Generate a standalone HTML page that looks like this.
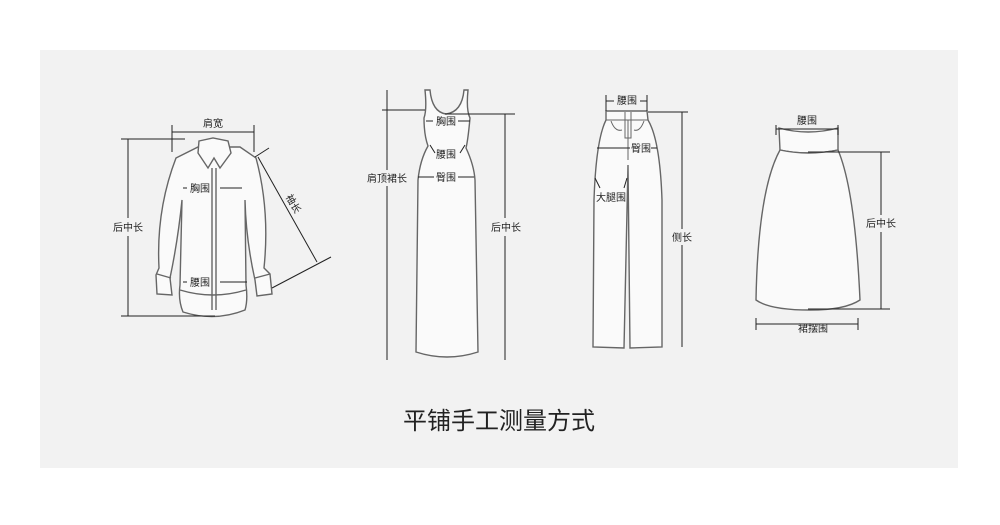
<!DOCTYPE html>
<html><head><meta charset="utf-8"><style>
html,body{margin:0;padding:0;background:#fff;}
svg{display:block;}
text{font-family:"Liberation Sans","Noto Sans CJK SC",sans-serif;fill:#222;}
</style></head><body>
<svg width="1000" height="525" viewBox="0 0 1000 525" xmlns="http://www.w3.org/2000/svg">
<rect x="40" y="50" width="918" height="418" fill="#f2f2f2"/>
<g fill="#fafafa" stroke="#666" stroke-width="1.4">
<!-- shirt -->
<path d="M176,158 L198,147 L240,147 L256,158 Q270,210 264,268 L270,274 L272,294 L257,296 L255,280 Q246,240 245,200 L246,285 Q248,300 245,310 Q215,322 183,312 Q178,300 180,285 L182,200 Q178,240 170,278 L172,295 L157,294 L156,275 L159,268 Q156,210 176,158 Z"/>
<path d="M180,290 Q213,300 246,290" fill="none"/>
<path d="M199,141 L213,138 L228,141 L231,153 L220,168 L214,158 L208,168 L198,153 Z"/>
<path d="M157,274 L171,278 M255,278 L270,274 M212,168 V310 M216,168 V310" fill="none"/>
<!-- dress -->
<path d="M425,90 L430,90 Q432,112 446,114 Q462,112 464,90 L468,90 Q466,110 470,118 Q468,140 466,148 Q474,165 475,180 L478,352 Q447,362 416,352 L418,180 Q420,160 428,146 Q424,135 424,118 Q427,110 425,90 Z"/>
<!-- pants -->
<path d="M606,111 L647,111 L648,120 Q660,140 662,200 L662,347 L630,348 L628,165 L624,348 L593,347 L594,200 Q596,140 606,120 Z"/>
<path d="M606,120 L648,120 M628,120 L628,160 M625,112 L625,138 L631,138 L631,112 M611,121 Q615,132 622,130 M644,121 Q640,132 634,130" fill="none" stroke-width="1"/>
<!-- skirt -->
<path d="M779,128 Q808,136 838,128 L838,150 Q808,156 780,150 Z"/>
<path d="M780,150 Q808,156 838,150 Q855,190 860,300 Q845,310 810,310 Q770,310 756,300 Q758,190 780,150 Z"/>
</g>
<g stroke="#222" stroke-width="1" fill="none">
<path d="M172,125 V152 M254,125 V152 M172,132 H254"/>
<path d="M121,139 H185 M121,316 H215 M128,139 V218 M128,236 V316"/>
<path d="M255,157 L269,148 M258,157 L317,262 M272,288 L331,257"/>
<path d="M183,188 H187 M220,188 H242 M183,282 H187 M220,282 H247"/>
<path d="M387,90 V170 M387,186 V360 M382,110 H425 M445,114 H515 M505,114 V218 M505,236 V360"/>
<path d="M426,121 H433 M458,121 H470 M430,145 L435,153 M465,145 L460,153 M418,177 H434 M458,177 H474"/>
<path d="M606,95 V111 M647,95 V111 M606,101 H614 M640,101 H647 M648,112 H688 M682,112 V229 M682,245 V347"/>
<path d="M597,148 H630 M651,148 H657 M595,178 L600,188 M627,178 L624,188"/>
<path d="M776,125 V135 M838,125 V135 M776,129 H838 M808,152 H890 M881,152 V215 M881,232 V309 M808,309 H890"/>
<path d="M756,318 V330 M858,318 V330 M756,324 H858"/>
</g>
<g font-size="10" text-anchor="middle">
<text x="213" y="127">肩宽</text>
<text x="128" y="231">后中长</text>
<text x="200" y="192">胸围</text>
<text x="200" y="286">腰围</text>
<text x="293" y="207" transform="rotate(60 293 204)">袖长</text>
<text x="446" y="125">胸围</text>
<text x="446" y="158">腰围</text>
<text x="446" y="181">臀围</text>
<text x="387" y="182">肩顶裙长</text>
<text x="506" y="231">后中长</text>
<text x="627" y="104">腰围</text>
<text x="641" y="152">臀围</text>
<text x="611" y="201">大腿围</text>
<text x="682" y="241">侧长</text>
<text x="807" y="124">腰围</text>
<text x="881" y="227">后中长</text>
<text x="813" y="332">裙摆围</text>
</g>
<text x="499" y="429" font-size="24" text-anchor="middle" fill="#333">平铺手工测量方式</text>
</svg>
</body></html>
